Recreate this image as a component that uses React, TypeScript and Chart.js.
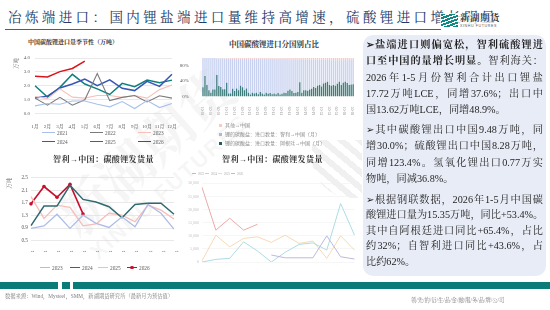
import React, { useEffect, useRef } from "react";
import { Chart, registerables } from "chart.js";
Chart.register(...registerables);

const NUM = "'Liberation Serif', 'Noto Serif CJK SC', 'Noto Sans CJK SC', serif";
const CJK = "'Liberation Serif', 'Noto Serif CJK SC', 'Noto Sans CJK SC', serif";

const months = ["1月", "2月", "3月", "4月", "5月", "6月", "7月", "8月", "9月", "10月", "11月", "12月"];

// 中国碳酸锂进口量季节性（万吨）
const imp2021 = [0.56, 0.73, 0.68, 0.91, 0.91, 0.68, 0.49, 0.87, 0.37, 0.94, 0.44, 0.73];
const imp2022 = [1.12, 0.61, 1.17, 0.61, 1.0, 2.88, 0.94, 1.17, 1.31, 0.84, 1.29, 1.12];
const imp2023 = [1.24, 1.08, 1.78, 1.19, 1.12, 1.31, 1.31, 1.17, 1.31, 1.12, 1.73, 2.06];
const imp2024 = [1.12, 1.26, 1.85, 2.13, 2.48, 2.01, 2.43, 1.82, 1.66, 2.32, 1.96, 2.83];
const imp2025 = [2.01, 1.19, 1.89, 2.83, 2.13, 1.78, 1.38, 2.18, 1.94, 2.41, 2.22, 2.41];
const imp2026 = [2.69, 2.64, 3.02, 3.25, 3.77];

// 中国碳酸锂进口分国别占比 (%), 2020-01 .. 2026-05
const shareYears = [2020, 2021, 2022, 2023, 2024, 2025, 2026];
const argentinaShare = [
  24, 53, 30, 16, 10, 18, 18, 56, 27, 25, 19, 19,
  36, 8, 8, 20, 14, 21, 16, 28, 24, 16, 21, 10,
  5, 10, 8, 10, 6, 12, 8, 5, 10, 7, 9, 6,
  8, 6, 9, 5, 7, 10, 9, 15, 18, 14, 9, 10,
  12, 37, 10, 16, 16, 15, 18, 20, 25, 22, 28, 30,
  26, 34, 36, 38, 30, 28, 30, 28, 33, 38, 30, 36,
  38, 35, 30, 31, 32,
];
const otherShare = [
  0, 0, 0, 0, 0, 0, 0, 1, 1, 1, 1, 1,
  1, 2, 2, 2, 2, 3, 2, 2, 3, 2, 2, 3,
  2, 2, 3, 2, 2, 2, 3, 2, 2, 3, 2, 2,
  2, 3, 2, 2, 3, 2, 2, 3, 3, 2, 3, 3,
  3, 3, 2, 3, 3, 3, 4, 3, 3, 4, 3, 4,
  4, 5, 4, 5, 5, 6, 5, 7, 5, 6, 8, 6,
  5, 6, 5, 4, 5,
];

// 智利→中国：碳酸锂发货量（万吨）
const ship2023 = [0.89, 0.97, 1.34, 0.89, 1.31, 1.05, 0.92, 1.26, 0.94, 1.65, 1.37, 0.87];
const ship2024 = [0.98, 1.6, 1.6, 2.26, 1.81, 1.73, 1.58, 1.23, 1.65, 1.69, 1.69, 1.34];
const ship2025 = [1.9, 1.21, 1.63, 1.56, 0.97, 1.03, 1.37, 1.31, 1.1, 1.63, 1.47, 1.19];
const ship2026 = [1.67, 2.22, 1.88, 2.29, 1.35];

// 智利→中国：碳酸锂发货量（吨，背景图）
const bg2023 = [null, null, null, null, null, 2660, 1600, 1600, 1600, 10000, 2000, 1140];
const bg2024 = [0, 1000, 1400, 7700, 4200, 0, 3700, 6700, 7300, 4560, 22300, 10250];
const bg2025 = [500, 10250, 5800, 9000, 9600, 7500, 10250, 7100, 8000, 1400, 10000, 4560];
const bg2026 = [28500, 12150, 16700, 12150, 14400];

const periods: string[] = [];
shareYears.forEach((y) => {
  for (let m = 1; m <= 12; m++) {
    if (periods.length < argentinaShare.length) periods.push(`${y}-${String(m).padStart(2, "0")}`);
  }
});
const chileShare = argentinaShare.map((a, i) => 100 - a - otherShare[i]);

function ChartCanvas({ config, left, top, width, height }: any) {
  const ref = useRef<HTMLCanvasElement>(null);
  useEffect(() => {
    const chart = new Chart(ref.current as HTMLCanvasElement, config);
    return () => chart.destroy();
  }, []);
  return (
    <canvas
      ref={ref}
      width={width}
      height={height}
      style={{ position: "absolute", left, top, width, height }}
    />
  );
}

const lineDs = (label: string, data: any[], color: string, w: number, extra: any = {}) => ({
  label,
  data,
  borderColor: color,
  backgroundColor: color,
  borderWidth: w,
  pointRadius: 0,
  tension: 0,
  spanGaps: false,
  ...extra,
});

const seasonalConfig: any = {
  type: "line",
  data: {
    labels: months,
    datasets: [
      lineDs("2021", imp2021, "#A9C1EA", 1.1),
      lineDs("2022", imp2022, "#7A7A7A", 1.1),
      lineDs("2023", imp2023, "#F7C0BB", 1.1),
      lineDs("2024", imp2024, "#3857B5", 1.5),
      lineDs("2025", imp2025, "#0E807C", 1.5),
      lineDs("2026", imp2026, "#D9151B", 1.5),
    ],
  },
  options: {
    animation: false,
    responsive: false,
    devicePixelRatio: 1,
    layout: { padding: { top: 6.7, right: 13, left: 0, bottom: 0 } },
    plugins: { legend: { display: false }, tooltip: { enabled: false } },
    scales: {
      x: {
        offset: false,
        grid: { display: false },
        border: { display: false },
        ticks: { font: { size: 5, family: NUM }, color: "#595959", padding: 2, maxRotation: 0, autoSkip: false },
        afterFit: (s: any) => { s.height = 16.3; },
      },
      y: {
        min: 0,
        max: 4,
        ticks: { stepSize: 0.5, callback: (v: any) => Number(v).toFixed(1), font: { size: 5, family: NUM }, color: "#595959", padding: 5 },
        grid: { color: "#DADADA", lineWidth: 0.6, drawTicks: false },
        border: { display: false },
        title: { display: true, text: "万吨", align: "end", font: { size: 5.5, family: CJK }, color: "#595959", padding: { top: 13, bottom: 0 } },
        afterFit: (s: any) => { s.width = 35; },
      },
    },
  },
};

const shareConfig: any = {
  type: "bar",
  data: {
    labels: periods,
    datasets: [
      { label: "锂的碳酸盐：进口数量：阿根廷→中国（月）", data: argentinaShare, backgroundColor: "#3F7D7C", stack: "s", barPercentage: 0.68, categoryPercentage: 1 },
      { label: "锂的碳酸盐：进口数量：智利→中国（月）", data: chileShare, backgroundColor: "#C8D2F0", stack: "s", barPercentage: 0.68, categoryPercentage: 1 },
      { label: "其他→中国", data: otherShare, backgroundColor: "#F6CBC6", stack: "s", barPercentage: 0.68, categoryPercentage: 1 },
    ],
  },
  options: {
    animation: false,
    responsive: false,
    devicePixelRatio: 1,
    layout: { padding: { top: 4.5, right: 5, left: 0, bottom: 0 } },
    plugins: { legend: { display: false }, tooltip: { enabled: false } },
    scales: {
      x: {
        stacked: true,
        grid: { display: false },
        border: { display: false },
        ticks: {
          autoSkip: false,
          minRotation: 90,
          maxRotation: 90,
          font: { size: 4, family: NUM },
          color: "#8A8A8A",
          padding: 2,
          callback: (_v: any, i: number) => (i % 4 === 0 ? periods[i] : ""),
        },
        afterFit: (s: any) => { s.height = 18.5; },
      },
      y: {
        stacked: true,
        min: 0,
        max: 100,
        ticks: { stepSize: 20, callback: (v: any) => v + "%", font: { size: 5, family: NUM }, color: "#595959", padding: 5 },
        grid: { display: false },
        border: { display: false },
        afterFit: (s: any) => { s.width = 22; },
      },
    },
  },
};

const shipConfig: any = {
  type: "line",
  data: {
    labels: months,
    datasets: [
      lineDs("2023", ship2023, "#AEBDE8", 1.3),
      lineDs("2024", ship2024, "#2E6B70", 1.5),
      lineDs("2025", ship2025, "#F6BDB8", 1.3),
      lineDs("2026", ship2026, "#C8102E", 1.6, { pointRadius: 1.8, pointBackgroundColor: "#C8102E", pointBorderWidth: 0 }),
    ],
  },
  options: {
    animation: false,
    responsive: false,
    devicePixelRatio: 1,
    layout: { padding: { top: 7.7, right: 11, left: 0, bottom: 0 } },
    plugins: { legend: { display: false }, tooltip: { enabled: false } },
    scales: {
      x: {
        offset: false,
        grid: { display: false },
        border: { display: false },
        ticks: { font: { size: 5.3, family: NUM }, color: "#595959", padding: 3, maxRotation: 0, autoSkip: false },
        afterFit: (s: any) => { s.height = 11.3; },
      },
      y: {
        min: 0.5,
        max: 2.5,
        ticks: { stepSize: 0.2, callback: (v: any) => Number(v).toFixed(1), font: { size: 5.3, family: NUM }, color: "#595959", padding: 3 },
        grid: { color: "#DADADA", lineWidth: 0.6, drawTicks: false },
        border: { display: false },
        title: { display: true, text: "万吨", align: "end", font: { size: 5.5, family: CJK }, color: "#595959", padding: { top: 6.7, bottom: 0 } },
        afterFit: (s: any) => { s.width = 31; },
      },
    },
  },
};

const bgConfig: any = {
  type: "line",
  data: {
    labels: months,
    datasets: [
      lineDs("2023", bg2023, "#BDB9DE", 1),
      lineDs("2024", bg2024, "#ABDDE4", 1),
      lineDs("2025", bg2025, "#F7DAB2", 1),
      lineDs("2026", bg2026, "#EDA9A9", 1),
    ],
  },
  options: {
    animation: false,
    responsive: false,
    devicePixelRatio: 1,
    layout: { padding: { top: 5, right: 5, left: 0, bottom: 0 } },
    plugins: { legend: { display: false }, tooltip: { enabled: false } },
    scales: {
      x: {
        offset: false,
        grid: { display: false },
        border: { display: false },
        ticks: { font: { size: 3.5, family: NUM }, color: "#BBBBBB", padding: 2, maxRotation: 0, autoSkip: false },
        afterFit: (s: any) => { s.height = 10; },
      },
      y: {
        min: 0,
        max: 30000,
        ticks: { stepSize: 5000, font: { size: 4, family: NUM }, color: "#C4C4C4", padding: 3 },
        grid: { color: "#F0F0F0", lineWidth: 0.6, drawTicks: false },
        border: { display: false },
        afterFit: (s: any) => { s.width = 32; },
      },
    },
  },
};

function Abs({ left, top, children, style }: any) {
  return <div style={{ position: "absolute", left, top, whiteSpace: "nowrap", ...style }}>{children}</div>;
}

function LineKey({ left, top, color, label, w = 13, thick = 1.3, marker = false, size = 5.3, textColor = "#595959" }: any) {
  return (
    <div style={{ position: "absolute", left, top, display: "flex", alignItems: "center", height: 8, whiteSpace: "nowrap" }}>
      <div style={{ position: "relative", width: w, height: thick, background: color }}>
        {marker && (
          <div style={{ position: "absolute", left: w / 2 - 1.8, top: thick / 2 - 1.8, width: 3.6, height: 3.6, borderRadius: 2, background: color }} />
        )}
      </div>
      <span style={{ marginLeft: 2, fontSize: size, color: textColor, fontFamily: NUM, lineHeight: "8px" }}>{label}</span>
    </div>
  );
}

function BoxKey({ left, top, color, label }: any) {
  return (
    <div style={{ position: "absolute", left, top, display: "flex", alignItems: "center", height: 7, whiteSpace: "nowrap" }}>
      <div style={{ width: 3, height: 3, background: color }} />
      <span style={{ marginLeft: 3, fontSize: 5, color: "#7A7A7A", fontFamily: CJK, lineHeight: "7px" }}>{label}</span>
    </div>
  );
}

type Seg = { t: string; b?: boolean };
const para1: Seg[][] = [
  [{ t: "➢盐端进口则偏宽松，智利硫酸锂进", b: true }],
  [{ t: "口至中国的量增长明显。", b: true }, { t: "智利海关：" }],
  [{ t: "2026年1-5月份智利合计出口锂盐" }],
  [{ t: "17.72万吨LCE，同增37.6%；出口中" }],
  [{ t: "国13.62万吨LCE，同增48.9%。" }],
];
const para2: Seg[][] = [
  [{ t: "➢其中碳酸锂出口中国9.48万吨，同" }],
  [{ t: "增30.0%；硫酸锂出口中国8.28万吨，" }],
  [{ t: "同增123.4%。氢氧化锂出口0.77万实" }],
  [{ t: "物吨，同减36.8%。" }],
];
const para3: Seg[][] = [
  [{ t: "➢根据钢联数据，2026年1-5月中国碳" }],
  [{ t: "酸锂进口量为15.35万吨，同比+53.4%。" }],
  [{ t: "其中自阿根廷进口同比+65.4%，占比" }],
  [{ t: "约32%；自智利进口同比+43.6%，占" }],
  [{ t: "比约62%。" }],
];

function Para({ lines, top, lh }: { lines: Seg[][]; top: number; lh: number }) {
  return (
    <div style={{ position: "absolute", left: 366, top, width: 177 }}>
      {lines.map((segs, i) => (
        <div
          key={i}
          style={{
            height: lh,
            lineHeight: lh + "px",
            fontSize: 10.2,
            fontFamily: CJK,
            color: "#1E1E1E",
            whiteSpace: "nowrap",
            textAlign: i === lines.length - 1 ? "left" : "justify",
            textAlignLast: i === lines.length - 1 ? "left" : "justify",
          } as any}
        >
          {segs.map((s, j) => (
            <span key={j} style={{ fontWeight: s.b ? 700 : 400 }}>{s.t}</span>
          ))}
        </div>
      ))}
    </div>
  );
}

export default function App() {
  return (
    <div style={{ position: "fixed", left: 0, top: 0, width: 550, height: 310, overflow: "hidden", background: "#FFFFFF" }}>
      {/* watermark */}
      <div style={{ position: "absolute", left: 48, top: 205, transform: "rotate(-42deg)", transformOrigin: "left top", color: "rgba(120,120,120,0.075)", fontFamily: CJK, fontWeight: 700, fontSize: 54, whiteSpace: "nowrap", lineHeight: "56px" }}>
        新湖期货
        <div style={{ fontSize: 22, lineHeight: "24px", fontFamily: "'Liberation Sans', sans-serif", letterSpacing: 2 }}>XINHU FUTURES</div>
      </div>
      <div style={{ position: "absolute", left: 312, top: 140, width: 50, height: 58, background: "repeating-linear-gradient(40deg, rgba(0,0,0,0.06) 0px, rgba(0,0,0,0.06) 6px, rgba(0,0,0,0) 6px, rgba(0,0,0,0) 12px)", borderRadius: "0 0 0 40px" }} />

      {/* title */}
      <Abs left={8} top={10} style={{ fontSize: 13.5, lineHeight: "15px", letterSpacing: 3.4, color: "#203864", fontFamily: CJK }}>
        冶炼端进口：国内锂盐端进口量维持高增速，硫酸锂进口增长明显
      </Abs>
      <div style={{ position: "absolute", left: 5, top: 28.5, width: 436, height: 1.4, background: "#0E7C7B" }} />
      {/* logo */}
      <div style={{ position: "absolute", left: 440, top: 13, width: 78, height: 15, background: "rgba(255,255,255,0.75)" }} />
      <div style={{ position: "absolute", left: 441, top: 14, width: 17, height: 13, background: "repeating-linear-gradient(160deg, #0E8A84 0px, #0E8A84 2px, #FFFFFF 2px, #FFFFFF 3.2px)" }} />
      <Abs left={460} top={13} style={{ fontSize: 9.5, lineHeight: "10px", fontWeight: 700, color: "#3A3A3A", fontFamily: CJK, letterSpacing: 0.5 }}>新湖期货</Abs>
      <Abs left={460} top={23.5} style={{ fontSize: 3.6, lineHeight: "4px", color: "#555", fontFamily: "'Liberation Sans', sans-serif", letterSpacing: 0.6 }}>XINHU FUTURES</Abs>

      {/* top-left chart */}
      <Abs left={28} top={39} style={{ fontSize: 6, lineHeight: "7px", fontWeight: 700, color: "#333", fontFamily: CJK }}>中国碳酸锂进口量季节性（万吨）</Abs>
      <ChartCanvas config={seasonalConfig} left={0} top={50} width={185} height={80} />
      <LineKey left={42} top={128.5} color="#A9C1EA" label="2021" />
      <LineKey left={90} top={128.5} color="#7A7A7A" label="2022" />
      <LineKey left={138} top={128.5} color="#F7C0BB" label="2023" />
      <LineKey left={42} top={137.5} color="#3857B5" label="2024" thick={1.8} />
      <LineKey left={90} top={137.5} color="#0E807C" label="2025" thick={1.8} />
      <LineKey left={138} top={137.5} color="#D9151B" label="2026" thick={1.8} />

      {/* top-middle chart */}
      <Abs left={229} top={41} style={{ fontSize: 7.5, lineHeight: "8px", fontWeight: 700, color: "#333", fontFamily: CJK }}>中国碳酸锂进口分国别占比</Abs>
      <ChartCanvas config={shareConfig} left={180} top={50} width={180} height={65} />
      <BoxKey left={219} top={121.5} color="#F6CBC6" label="其他→中国" />
      <BoxKey left={219} top={130.8} color="#A9B7E6" label="锂的碳酸盐：进口数量：智利→中国（月）" />
      <BoxKey left={219} top={139.8} color="#1F5E5E" label="锂的碳酸盐：进口数量：阿根廷→中国（月）" />

      {/* bottom-middle faded chart */}
      <Abs left={222} top={154.5} style={{ fontSize: 8, lineHeight: "9px", fontWeight: 700, color: "#333", fontFamily: CJK, letterSpacing: 0.4 }}>智利→中国：碳酸锂发货量</Abs>
      <ChartCanvas config={bgConfig} left={170} top={178} width={190} height={94} />
      <LineKey left={192} top={169.5} color="#BDB9DE" label="2023" w={4} thick={0.8} size={3} textColor="#AAA" />
      <LineKey left={205} top={169.5} color="#ABDDE4" label="2024" w={4} thick={0.8} size={3} textColor="#AAA" />
      <LineKey left={218} top={169.5} color="#F7DAB2" label="2025" w={4} thick={0.8} size={3} textColor="#AAA" />
      <LineKey left={231} top={169.5} color="#EDA9A9" label="2026" w={4} thick={0.8} size={3} textColor="#AAA" />

      {/* bottom-left chart */}
      <Abs left={53} top={154.5} style={{ fontSize: 8, lineHeight: "9px", fontWeight: 700, color: "#333", fontFamily: CJK, letterSpacing: 0.4 }}>智利→中国：碳酸锂发货量</Abs>
      <ChartCanvas config={shipConfig} left={0} top={170} width={185} height={82} />
      <LineKey left={40} top={263.7} color="#AEBDE8" label="2023" w={10} />
      <LineKey left={70} top={263.7} color="#2E6B70" label="2024" w={10} thick={1.6} />
      <LineKey left={98} top={263.7} color="#F6BDB8" label="2025" w={10} />
      <LineKey left={127} top={263.7} color="#C8102E" label="2026" w={10} thick={1.6} marker />

      {/* text panel */}
      <div style={{ position: "absolute", left: 363, top: 35, width: 183, height: 241, borderRadius: 10, background: "#E8ECF6" }} />
      <Para lines={para1} top={37} lh={16.3} />
      <Para lines={para2} top={122} lh={16.4} />
      <Para lines={para3} top={191.5} lh={15.6} />

      {/* footer */}
      <div style={{ position: "absolute", left: 0, top: 282, width: 58, height: 6.5, background: "#0B7B79" }} />
      <div style={{ position: "absolute", left: 62, top: 282, width: 8, height: 6.5, background: "#0B7B79" }} />
      <div style={{ position: "absolute", left: 73, top: 282, width: 477, height: 6.5, background: "#0B7B79" }} />
      <Abs left={5} top={293} style={{ fontSize: 5.3, lineHeight: "6px", color: "#7F7F7F", fontFamily: CJK }}>
        数据来源：Wind，Mysteel，SMM，新湖期货研究所（最新月为预估值）
      </Abs>
      <Abs left={411} top={297} style={{ fontSize: 5.3, lineHeight: "6px", color: "#7F7F7F", fontFamily: CJK }}>
        领/先/的/衍/生/品/金/融/服/务/品/牌/公/司
      </Abs>
    </div>
  );
}
